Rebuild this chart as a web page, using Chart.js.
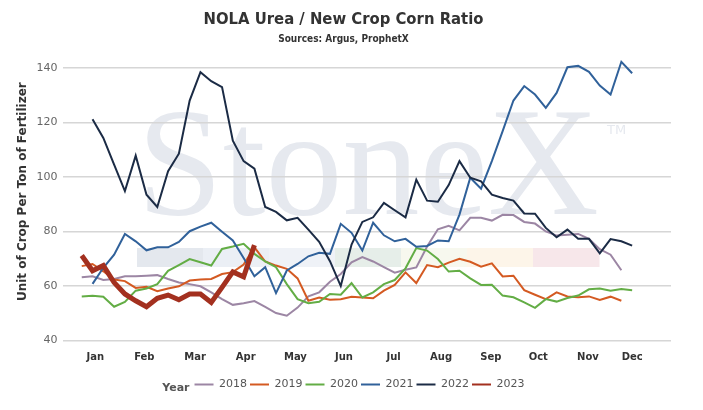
<!DOCTYPE html>
<html>
<head>
<meta charset="utf-8">
<script src="https://cdn.jsdelivr.net/npm/chart.js@4.4.0/dist/chart.umd.min.js"></script>
<style>
  html, body { margin: 0; padding: 0; background: #fff; }
  #wrap { width: 703px; height: 410px; }
</style>
</head>
<body>
<div id="wrap"><canvas id="myChart"></canvas></div>
<script>
// weekly ratio, one array per year; startWeek says which week the first value belongs to
const years = ['2018', '2019', '2020', '2021', '2022', '2023'];
const startWeek = [1, 1, 1, 2, 2, 1];

const ratio2018 = [63.2, 63.6, 62.2, 62.6, 63.6, 63.6, 63.8, 64, 62.6, 61.3, 60.7, 59.9, 57.7, 55.2, 53.1, 53.7, 54.5,
  52.4, 50.1, 49.1, 52.1, 56.2, 57.7, 61.6, 64.4, 68.7, 70.6, 69, 66.9, 64.9, 66, 66.8, 74.5, 80.8, 82.1, 80.4,
  85, 85, 84, 86.1, 86, 83.5, 82.9, 80, 78.5, 78.8, 79.1, 77.3, 73.5, 71.5, 65.8];
const ratio2019 = [67.3, 68.1, 65.4, 62.4, 61.8, 59.3, 59.7, 58.1, 59.1, 59.9, 62, 62.4, 62.6, 64.4, 65.1, 67.9, 74.2,
  69, 67.5, 66.3, 62.8, 54.6, 55.8, 55, 55.2, 56.1, 55.8, 55.5, 58.3, 60.4, 65, 61.1, 67.7, 66.9, 68.6, 70,
  68.9, 67.1, 68.3, 63.5, 63.8, 58.5, 56.8, 55.2, 57.7, 56.2, 55.9, 56.2, 54.9, 56.1, 54.6];
const ratio2020 = [56.2, 56.4, 56.1, 52.4, 54.2, 58.3, 59.1, 60.7, 65.6, 67.7, 69.9, 68.7, 67.5, 73.6, 74.5, 75.5, 71.8,
  69, 66.9, 60.7, 55.2, 53.7, 54.2, 57.1, 56.8, 61.1, 55.8, 57.7, 60.7, 62.2, 66.5, 73.9, 73, 69.9, 65.3, 65.6,
  62.8, 60.4, 60.5, 56.5, 55.9, 54, 52, 55.2, 54.3, 55.6, 56.5, 58.8, 59.1, 58.3, 58.9, 58.5];
const ratio2021 = [60.8, 66.7, 71.5, 79.1, 76.4, 73.1, 74.2, 74.2, 76.2, 80.1, 81.8, 83.2, 79.9, 76.7, 70.3, 63.6,
  66.9, 57.4, 65.7, 68.1, 70.9, 72.2, 71.8, 82.8, 79.5, 73, 83.2, 78.6, 76.4, 77.3, 74.4, 74.7, 76.7, 76.4,
  86.2, 99.7, 95.7, 105.8, 116.8, 128, 133.3, 130.2, 125.3, 130.8, 140.2, 140.7, 138.5, 133.5, 130.2, 142.2, 138];
const ratio2022 = [121.1, 114.3, 104.5, 94.8, 107.8, 93.5, 89, 102.1, 108.5, 128, 138.4, 135.1, 132.9, 113.3, 105.8,
  103, 89, 87.2, 84.1, 85, 80.7, 76.2, 69.1, 60, 75.2, 83.5, 85.2, 90.5, 87.8, 85.2, 99, 91.3, 90.9, 97, 105.8,
  99.7, 98.4, 93.5, 92.3, 91.3, 86.6, 86.5, 81.3, 77.9, 80.7, 77.3, 77.3, 72, 77.2, 76.4, 74.8];
const ratio2023 = [71.2, 65.6, 67.5, 61.3, 57.1, 54.6, 52.4, 55.5, 56.7, 55, 57.1, 57.1, 54, 59.5, 65.2, 63.4, 75];

const monthLabels = ['Jan', 'Feb', 'Mar', 'Apr', 'May', 'Jun', 'Jul', 'Aug', 'Sep', 'Oct', 'Nov', 'Dec'];
const monthWeeks = [2.25, 6.8, 11.5, 16.2, 20.8, 25.3, 29.9, 34.3, 38.9, 43.3, 47.9, 52.0];
const yTicks = [40, 60, 80, 100, 120, 140];

const allRatios = [ratio2018, ratio2019, ratio2020, ratio2021, ratio2022, ratio2023];
const colors = ['#9c86a4', '#d45a22', '#63ad45', '#30619a', '#1b2b45', '#a3301f'];

const datasets = years.map((yr, i) => ({
  label: yr,
  data: allRatios[i].map((v, j) => ({ x: startWeek[i] + j, y: v })),
  borderColor: colors[i],
  backgroundColor: colors[i],
  borderWidth: yr === '2023' ? 5 : 2,
  pointRadius: 0,
  tension: 0,
  fill: false,
  clip: false,
  order: years.length - i
}));

const SANS = "'DejaVu Sans', Verdana, sans-serif";
const NARROW = "'DejaVu Sans Condensed', 'Liberation Sans Narrow', 'DejaVu Sans', sans-serif";

// StoneX watermark + colour strip behind the plot, plus the "Year" legend prefix
const watermark = {
  id: 'watermark',
  beforeDraw(chart) {
    const ctx = chart.ctx;
    ctx.save();
    ctx.fillStyle = '#fff';
    ctx.fillRect(0, 0, chart.width, chart.height);
    const strip = ['#e4e8ee', '#ebeff5', '#eff2f7', '#e6eee9', '#f7f8ee', '#fdf5e9', '#f7e7ea'];
    strip.forEach((c, i) => {
      ctx.fillStyle = c;
      ctx.fillRect(137 + i * 66, 248, 66.5, 19);
    });
    ctx.fillStyle = '#e6e9ef';
    ctx.font = "154px 'Liberation Serif', 'DejaVu Serif', serif";
    ctx.textBaseline = 'alphabetic';
    ctx.textAlign = 'left';
    ctx.fillText('StoneX', 137, 214);
    ctx.font = "13px " + SANS;
    ctx.fillText('TM', 607, 134);
    ctx.restore();
  },
  afterLayout(chart) {
    const lg = chart.legend;
    lg.left += 16;
    lg.right += 16;
  },
  afterDraw(chart) {
    const lg = chart.legend;
    const pad = lg.options.labels.padding;
    const startX = (lg.left + pad + lg.right - lg.lineWidths[0]) / 2;
    const ctx = chart.ctx;
    ctx.save();
    ctx.fillStyle = '#555';
    ctx.font = 'bold 11px ' + SANS;
    ctx.textAlign = 'right';
    ctx.textBaseline = 'middle';
    ctx.fillText('Year', startX - 5, lg.top + lg.height / 2);
    ctx.restore();
  }
};

const config = {
  type: 'line',
  data: { datasets: datasets },
  options: {
    responsive: true,
    maintainAspectRatio: false,
    animation: false,
    layout: { padding: { left: 16, right: 32, top: 0, bottom: 10 } },
    plugins: {
      title: {
        display: true,
        text: 'NOLA Urea / New Crop Corn Ratio',
        color: '#333',
        font: { family: NARROW, size: 16.5, weight: 'bold' },
        padding: { top: 10, bottom: 2 }
      },
      subtitle: {
        display: true,
        text: 'Sources: Argus, ProphetX',
        color: '#333',
        font: { family: NARROW, size: 10, weight: 'bold' },
        padding: { top: 2, bottom: 22 }
      },
      legend: {
        position: 'bottom',
        labels: {
          boxWidth: 19,
          boxHeight: 2,
          padding: 3,
          color: '#555',
          font: { family: SANS, size: 11 },
          sort: (a, b) => a.datasetIndex - b.datasetIndex,
          generateLabels: (chart) => Chart.defaults.plugins.legend.labels.generateLabels(chart)
            .map(it => Object.assign(it, { lineWidth: 0, strokeStyle: 'rgba(0,0,0,0)' }))
        }
      },
      tooltip: { enabled: false }
    },
    scales: {
      x: {
        type: 'linear',
        min: -0.7,
        max: 55.6,
        afterBuildTicks: (axis) => { axis.ticks = monthWeeks.map(v => ({ value: v })); },
        ticks: {
          autoSkip: false,
          maxRotation: 0,
          color: '#333',
          font: { family: SANS, size: 10, weight: 'bold' },
          padding: 3,
          callback: (v, i) => monthLabels[i]
        },
        // empty title only keeps a gap between the month labels and the legend
        title: { display: true, text: '', font: { size: 2 }, padding: { top: 7, bottom: 0 } },
        grid: { display: false },
        border: { display: false }
      },
      y: {
        min: 40,
        max: 140,
        afterBuildTicks: (axis) => { axis.ticks = yTicks.map(v => ({ value: v })); },
        ticks: {
          color: '#666',
          font: { family: SANS, size: 11 },
          padding: 6
        },
        grid: { color: '#d6d6d6', lineWidth: 1.5, drawTicks: false },
        border: { display: false },
        title: {
          display: true,
          text: '      Unit of Crop Per Ton of Fertilizer',
          color: '#333',
          font: { family: SANS, size: 12, weight: 'bold' },
          padding: { top: 0, bottom: 0 }
        }
      }
    }
  },
  plugins: [watermark]
};

const myChart = new Chart(document.getElementById('myChart'), config);
</script>
</body>
</html>
